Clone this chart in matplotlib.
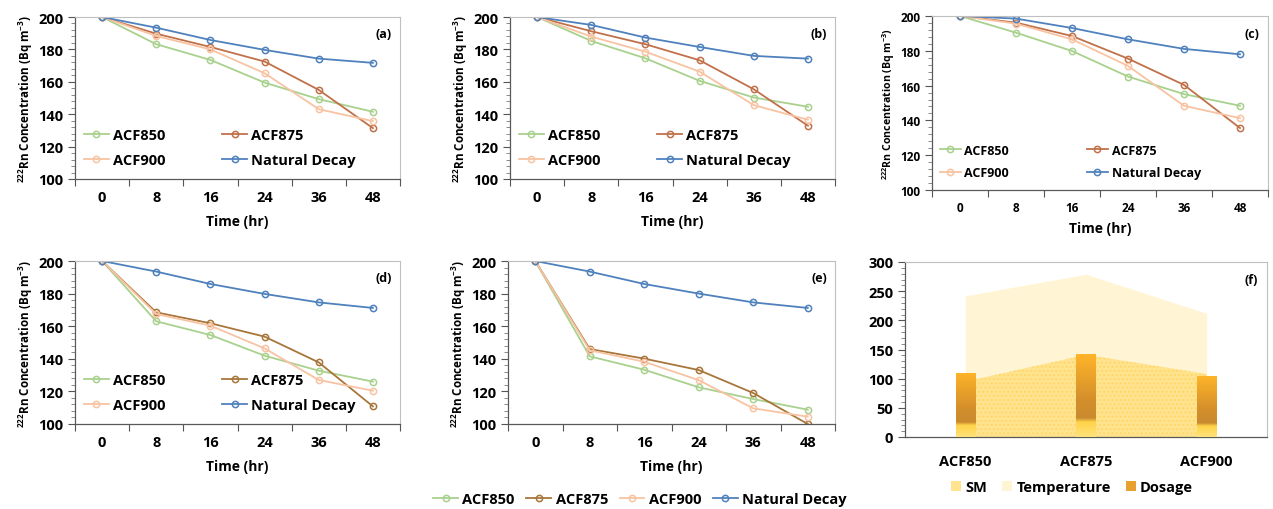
import matplotlib
matplotlib.use("Agg")
import matplotlib.pyplot as plt
import numpy as np
from matplotlib.colors import LinearSegmentedColormap
from matplotlib.ticker import MultipleLocator, FixedLocator
from matplotlib.patches import Patch

FONT = 'Open Sans'
plt.rcParams['font.family'] = [FONT, 'DejaVu Sans']
plt.rcParams['font.weight'] = 'bold'
plt.rcParams['mathtext.fontset'] = 'custom'
plt.rcParams['mathtext.rm'] = FONT + ':bold'
plt.rcParams['mathtext.bf'] = FONT + ':bold'
plt.rcParams['mathtext.default'] = 'bf'

times = ["0", "8", "16", "24", "36", "48"]
series_names = ["ACF850", "ACF875", "ACF900", "Natural Decay"]

# panel (a)
a_850 = [200, 183.2, 173.5, 159.5, 149.3, 141.5]
a_875 = [200, 189.7, 181.5, 172.5, 155.0, 131.4]
a_900 = [200, 188.3, 180.0, 165.3, 143.1, 135.7]
a_nd = [200, 193.4, 185.8, 179.7, 174.3, 171.7]
# panel (b)
b_850 = [200, 185.2, 174.5, 160.6, 150.3, 144.6]
b_875 = [200, 191.2, 183.2, 173.3, 155.4, 132.9]
b_900 = [200, 187.9, 178.6, 166.3, 145.6, 136.6]
b_nd = [200, 195.1, 187.3, 181.5, 176.0, 174.3]
# panel (c)
c_850 = [200, 190.4, 179.9, 165.2, 155.1, 148.4]
c_875 = [200, 196.2, 188.5, 175.5, 160.4, 135.6]
c_900 = [200, 195.6, 186.6, 171.3, 148.4, 141.3]
c_nd = [200, 198.5, 193.1, 186.6, 181.1, 178.0]
# panel (d)
d_850 = [200, 163.0, 154.6, 141.9, 132.7, 126.0]
d_875 = [200, 168.5, 161.8, 153.6, 137.8, 110.8]
d_900 = [200, 167.5, 160.3, 146.4, 127.0, 120.4]
d_nd = [200, 193.5, 185.9, 179.8, 174.6, 171.2]
# panel (e)
e_850 = [200, 141.5, 133.3, 122.5, 115.3, 108.8]
e_875 = [200, 146.0, 140.1, 133.1, 119.0, 100.0]
e_900 = [200, 145.2, 138.2, 126.9, 109.6, 104.5]
e_nd = [200, 193.5, 185.9, 180.0, 174.6, 171.2]

# panel (f)
f_cats = ["ACF850", "ACF875", "ACF900"]
f_sm = [95, 141, 108]
f_temp_top = [242, 279, 212]
f_dosage = [110, 142, 104]
f_legend = ["SM", "Temperature", "Dosage"]

W, H = 1273, 510
fig = plt.figure(figsize=(W / 100, H / 100), dpi=100)

def ax_at(l, r, t, b):
    return fig.add_axes([l / W, (H - b) / H, (r - l) / W, (b - t) / H])

col_850 = "#a9d18e"
col_900 = "#f8c3a3"
col_nd = "#4f81bd"
col_875_top = "#c0714a"
col_875_bot = "#a8763a"

def style_axes(ax, tick_fs):
    ax.tick_params(axis='y', which='major', length=5, width=0.8, labelsize=tick_fs, color='#555555')
    ax.tick_params(axis='y', which='minor', length=3, width=0.6, color='#777777')
    for s in ['top', 'right']:
        ax.spines[s].set_color('#bfbfbf')
        ax.spines[s].set_linewidth(0.8)
    for s in ['left', 'bottom']:
        ax.spines[s].set_color('#595959')
        ax.spines[s].set_linewidth(0.9)

def line_panel(ax, data, label, c875, legend=True, tick_fs=10.5, leg_fs=10.5, lab_fs=8.4,
               colsp=3.9, xlab_pad=7):
    x = np.arange(len(times))
    cols = [col_850, c875, col_900, col_nd]
    lines = []
    for vals, name, c in zip(data, series_names, cols):
        ln, = ax.plot(x, vals, color=c, lw=1.3, marker='o', ms=4.5, mfc='none', mec=c, mew=1.1, label=name)
        lines.append(ln)
    ax.set_xlim(-0.5, len(times) - 0.5)
    ax.set_ylim(100, 200)
    ax.set_xticks(x)
    ax.set_xticklabels(times)
    ax.tick_params(axis='x', length=0, labelsize=tick_fs, pad=8)
    ax.xaxis.set_minor_locator(FixedLocator(np.arange(-0.5, len(times), 1.0)))
    ax.tick_params(axis='x', which='minor', length=5, width=0.8, color='#555555')
    ax.yaxis.set_major_locator(MultipleLocator(20))
    ax.yaxis.set_minor_locator(MultipleLocator(4))
    style_axes(ax, tick_fs)
    ax.set_xlabel("Time (hr)", fontsize=10, fontweight='bold', labelpad=xlab_pad)
    ax.set_ylabel(r"$^{222}$Rn Concentration (Bq m$^{-3}$)", fontsize=lab_fs, fontweight='bold', labelpad=2)
    ax.text(0.975, 0.9, label, transform=ax.transAxes, ha='right', va='center', fontsize=9, fontweight='bold')
    if legend:
        order = [0, 2, 1, 3]
        ax.legend([lines[i] for i in order], [series_names[i] for i in order],
                  ncol=2, loc='lower left', bbox_to_anchor=(0.0, 0.02), frameon=False,
                  fontsize=leg_fs, handlelength=1.7, handletextpad=0.3, columnspacing=colsp,
                  labelspacing=0.75, borderaxespad=0.2)
    return lines

axa = ax_at(75, 400, 18, 180)
line_panel(axa, [a_850, a_875, a_900, a_nd], "(a)", col_875_top)
axb = ax_at(510, 835, 18, 180)
line_panel(axb, [b_850, b_875, b_900, b_nd], "(b)", col_875_top)
axc = ax_at(932, 1268, 17, 191)
line_panel(axc, [c_850, c_875, c_900, c_nd], "(c)", col_875_top, tick_fs=8.5, leg_fs=9, lab_fs=7.6,
           colsp=6.2, xlab_pad=5)
axd = ax_at(75, 400, 262, 425)
line_panel(axd, [d_850, d_875, d_900, d_nd], "(d)", col_875_bot)
axe = ax_at(508, 835, 262, 425)
le = line_panel(axe, [e_850, e_875, e_900, e_nd], "(e)", col_875_bot, legend=False)
fig.legend(le, series_names, ncol=4, loc='center', bbox_to_anchor=(640 / W, (H - 500) / H), frameon=False,
           fontsize=10.5, handlelength=1.7, handletextpad=0.3, columnspacing=0.8)

# panel (f)
axf = ax_at(905, 1267, 263, 438)
xf = np.arange(len(f_cats))
sm_col = "#ffe38f"
temp_col = "#fff4d4"
axf.fill_between(xf, 0, f_temp_top, color=temp_col, lw=0, zorder=1)
axf.fill_between(xf, 0, f_sm, facecolor=sm_col, edgecolor='#ffd86a', hatch='....', lw=0, zorder=2)
cmap = LinearSegmentedColormap.from_list("dos", [
    (0.0, "#ffe37a"), (0.18, "#ffd34a"), (0.23, "#c98a2e"), (0.45, "#d48f2c"), (1.0, "#ffb428")])
grad = np.linspace(0, 1, 256).reshape(-1, 1)
bw = 0.16
bars = axf.bar(xf, f_dosage, width=bw, color='none', lw=0, zorder=3)
for rect, v in zip(bars, f_dosage):
    x0 = rect.get_x()
    im = axf.imshow(grad, cmap=cmap, origin='lower', aspect='auto',
                    extent=(x0, x0 + bw, 0, v), zorder=3)
    im.set_clip_path(rect)
axf.set_xlim(-0.5, 2.5)
axf.set_ylim(0, 300)
axf.set_xticks(xf)
axf.set_xticklabels(f_cats)
axf.tick_params(axis='x', length=0, labelsize=10.5, pad=12)
axf.yaxis.set_major_locator(MultipleLocator(50))
axf.yaxis.set_minor_locator(MultipleLocator(10))
style_axes(axf, 10.5)
axf.text(0.975, 0.9, "(f)", transform=axf.transAxes, ha='right', va='center', fontsize=9, fontweight='bold')
fh = [Patch(facecolor=sm_col, lw=0), Patch(facecolor=temp_col, lw=0), Patch(facecolor="#e8a030", lw=0)]
fig.legend(fh, f_legend, ncol=3, loc='center', bbox_to_anchor=(1072 / W, (H - 488) / H), frameon=False,
           fontsize=10.5, handlelength=0.7, handleheight=0.7, handletextpad=0.3, columnspacing=1.0)

fig.savefig("out.png", dpi=100)
